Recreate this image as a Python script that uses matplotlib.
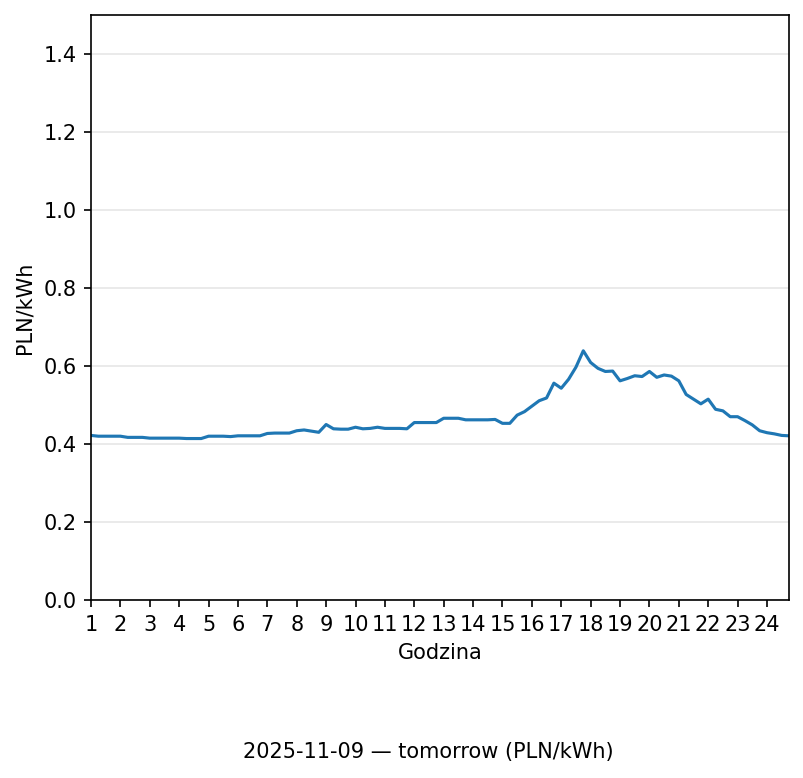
import numpy as np
import matplotlib.pyplot as plt

# Quarter-hour prices (PLN/kWh), 4 values per hour, hours 1..24
prices = [
    0.422, 0.420, 0.420, 0.420,
    0.420, 0.417, 0.417, 0.417,
    0.415, 0.415, 0.415, 0.415,
    0.415, 0.414, 0.414, 0.414,
    0.420, 0.420, 0.420, 0.419,
    0.421, 0.421, 0.421, 0.421,
    0.427, 0.428, 0.428, 0.428,
    0.434, 0.436, 0.433, 0.430,
    0.450, 0.439, 0.438, 0.438,
    0.443, 0.439, 0.440, 0.443,
    0.440, 0.440, 0.440, 0.439,
    0.455, 0.455, 0.455, 0.455,
    0.466, 0.466, 0.466, 0.462,
    0.462, 0.462, 0.462, 0.463,
    0.453, 0.453, 0.474, 0.483,
    0.497, 0.511, 0.518, 0.556,
    0.543, 0.566, 0.597, 0.639,
    0.609, 0.594, 0.586, 0.587,
    0.562, 0.568, 0.575, 0.573,
    0.586, 0.571, 0.577, 0.574,
    0.562, 0.527, 0.515, 0.503,
    0.515, 0.489, 0.485, 0.470,
    0.470, 0.460, 0.449, 0.434,
    0.429, 0.426, 0.422, 0.421,
]
hours = 1 + np.arange(len(prices)) / 4
hour_ticks = list(range(1, 25))

fig = plt.figure(figsize=(803 / 150, 778 / 150), dpi=150)
ax = fig.add_axes([0.1133, 0.2288, 0.8693, 0.7519])

ax.plot(hours, prices, color="#1f77b4", linewidth=1.5)

ax.set_xlim(1, 24.75)
ax.set_ylim(0, 1.5)
ax.set_xticks(hour_ticks)
ax.set_yticks(np.arange(0, 1.41, 0.2))
ax.grid(axis="y", color="#e6e6e6", linewidth=0.8)
ax.set_axisbelow(True)

ax.set_xlabel("Godzina")
ax.set_ylabel("PLN/kWh")

fig.text(0.533, 0.0334, "2025-11-09 — tomorrow (PLN/kWh)", ha="center", va="center")

fig.savefig("out.png", dpi=150)
